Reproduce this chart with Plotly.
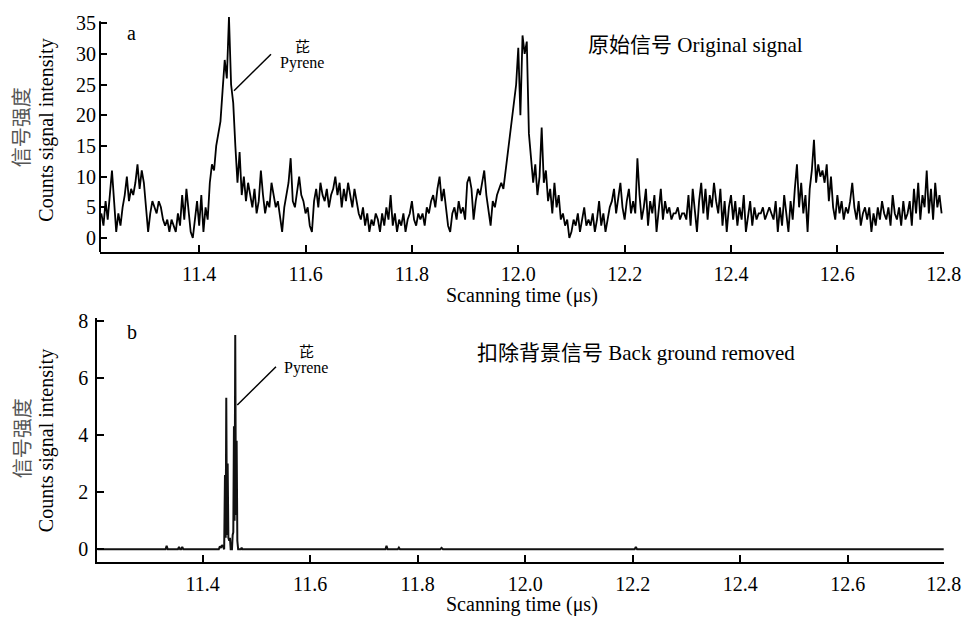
import numpy as np
import plotly.graph_objects as go

W, H = 963, 617


def fx(p):
    return p / W


def fy(p):
    return 1 - p / H


# ---------------- data ----------------
# Panel a: original signal, counts sampled every 0.004 us starting at 11.216 us
counts_a = [
    4, 2, 6, 3, 7, 11, 6, 1, 4, 2,
    5, 7, 10, 6, 8, 7, 9, 12, 8, 11,
    9, 5, 1, 4, 6, 5, 4, 6, 5, 3,
    2, 3, 1, 3, 2, 1, 4, 2, 7, 3,
    8, 4, 1, 0, 3, 6, 2, 7, 1, 5,
    3, 9, 12, 11, 15, 17, 19, 24, 29, 26,
    36, 25, 22, 15, 9, 14, 7, 10, 6, 9,
    7, 5, 8, 4, 6, 11, 7, 4, 6, 5,
    9, 7, 5, 6, 3, 1, 5, 7, 9, 13,
    6, 5, 8, 10, 7, 6, 4, 5, 2, 1,
    6, 8, 5, 9, 7, 6, 8, 5, 7, 8,
    10, 7, 9, 5, 8, 6, 9, 7, 5, 8,
    6, 4, 3, 5, 2, 4, 1, 3, 2, 4,
    3, 1, 4, 2, 5, 3, 7, 2, 4, 1,
    3, 2, 4, 1, 3, 4, 6, 3, 2, 4,
    3, 4, 2, 5, 4, 6, 7, 5, 8, 10,
    6, 8, 5, 2, 1, 4, 5, 3, 6, 4,
    5, 3, 9, 10, 8, 3, 6, 8, 7, 9,
    11, 7, 4, 2, 6, 5, 7, 8, 9, 8,
    11, 14, 16, 19, 22, 25, 31, 20, 33, 30,
    32, 17, 13, 9, 12, 7, 10, 18, 9, 11,
    6, 8, 4, 9, 5, 7, 3, 4, 2, 3,
    0, 1, 3, 2, 4, 1, 3, 5, 2, 3,
    2, 4, 1, 3, 6, 2, 4, 1, 3, 5,
    6, 8, 4, 7, 9, 5, 3, 6, 8, 4,
    6, 4, 13, 7, 3, 5, 8, 2, 6, 4,
    7, 1, 5, 8, 3, 6, 4, 5, 3, 4,
    4, 5, 3, 4, 4, 3, 7, 2, 8, 5,
    1, 6, 9, 4, 8, 3, 7, 5, 9, 6,
    4, 8, 2, 6, 1, 5, 7, 3, 6, 2,
    5, 3, 7, 1, 4, 6, 2, 5, 3, 4,
    4, 5, 3, 4, 5, 4, 3, 6, 1, 5,
    2, 7, 4, 1, 6, 3, 8, 12, 5, 9,
    4, 7, 1, 8, 11, 16, 9, 12, 10, 11,
    9, 12, 6, 10, 5, 3, 7, 4, 6, 3,
    5, 4, 6, 9, 5, 3, 6, 2, 4, 5,
    3, 5, 1, 4, 2, 5, 3, 6, 4, 3,
    5, 2, 7, 4, 3, 5, 2, 6, 3, 4,
    6, 2, 8, 4, 9, 3, 7, 5, 11, 4,
    8, 3, 9, 5, 7, 4,
]
time_start_a = 11.216
time_step_a = 0.004
time_a = np.round(time_start_a + time_step_a * np.arange(len(counts_a)), 4)

# Panel b: background removed
time_b = [
    11.204, 11.331, 11.333, 11.335, 11.354, 11.356, 11.358, 11.360, 11.362, 11.364,
    11.430, 11.432, 11.434, 11.436, 11.438, 11.440, 11.4415, 11.4428, 11.4439, 11.4452,
    11.4465, 11.4478, 11.4495, 11.4508, 11.4521, 11.4545, 11.4558, 11.4570, 11.4582, 11.4594,
    11.4606, 11.4619, 11.4632, 11.4645, 11.4660, 11.4710, 11.4725, 11.4740, 11.740, 11.742,
    11.744, 11.763, 11.765, 11.767, 11.842, 11.8444, 11.847, 12.2035, 12.2058, 12.208,
    12.7785,
]
counts_b = [
    0, 0, 0.12, 0, 0, 0.08, 0, 0, 0.08, 0,
    0, 0.1, 0.05, 0.15, 0.1, 0, 2.6, 0.4, 5.3, 0.5,
    3.0, 0.4, 0.3, 0.4, 0, 0, 0.5, 0.6, 4.3, 1.0,
    7.5, 1.2, 3.8, 0.3, 0, 0, 0.05, 0, 0, 0.12,
    0, 0, 0.06, 0, 0, 0.05, 0, 0, 0.08, 0,
    0,
]

x_tick_labels = ["11.4", "11.6", "11.8", "12.0", "12.2", "12.4", "12.6", "12.8"]
x_tick_vals_a = [11.4, 11.6, 11.8, 12.0, 12.2, 12.4, 12.6, 12.8]
x_tick_vals_b = [11.4, 11.6, 11.8, 12.0, 12.2, 12.4, 12.6, 12.7785]
y_tick_vals_a = [0, 5, 10, 15, 20, 25, 30, 35]
y_tick_vals_b = [0, 2, 4, 6, 8]

x_title = "Scanning time (μs)"
y_title_cn = "信号强度"
y_title_en = "Counts signal intensity"
pyrene_cn = "芘"
pyrene_en = "Pyrene"
label_a = "原始信号 Original signal"
label_b = "扣除背景信号 Back ground removed"

# ---------------- figure ----------------
FONT = "Liberation Serif, 'Noto Sans CJK SC', serif"
fig = go.Figure()
fig.add_trace(go.Scatter(x=time_a, y=counts_a, mode="lines",
                         line=dict(color="#000000", width=1.8),
                         xaxis="x", yaxis="y", hoverinfo="skip"))
fig.add_trace(go.Scatter(x=time_b, y=counts_b, mode="lines",
                         line=dict(color="#111111", width=2),
                         xaxis="x2", yaxis="y2", hoverinfo="skip"))

axis_common = dict(showgrid=False, zeroline=False, ticks="inside", ticklen=7,
                   tickwidth=1.5, tickcolor="black", linecolor="black", linewidth=2,
                   tickfont=dict(family=FONT, size=20, color="black"),
                   ticklabelstandoff=3, automargin=False)

fig.update_layout(
    width=W, height=H, autosize=False,
    margin=dict(l=0, r=0, t=0, b=0, pad=0),
    paper_bgcolor="white", plot_bgcolor="white",
    showlegend=False,
    font=dict(family=FONT, size=20, color="black"),
    xaxis=dict(domain=[fx(100), fx(944)], range=[11.2135, 12.8005], anchor="y",
               showline=True, tickvals=x_tick_vals_a, ticktext=x_tick_labels, **axis_common),
    yaxis=dict(domain=[fy(252), fy(16)], range=[-2.28, 36.16], anchor="x",
               showline=False, tickvals=y_tick_vals_a, **axis_common),
    xaxis2=dict(domain=[fx(97.3), fx(944)], range=[11.204, 12.779], anchor="y2",
                showline=True, tickvals=x_tick_vals_b, ticktext=x_tick_labels, **axis_common),
    yaxis2=dict(domain=[fy(561.7), fy(318.3)], range=[-0.434, 8.08], anchor="x2",
                showline=True, tickvals=y_tick_vals_b, **axis_common),
)

shapes = [
    dict(type="line", xref="x domain", yref="y", x0=0, x1=0, y0=-2.28, y1=35.3,
         line=dict(color="black", width=2)),
    dict(type="line", xref="paper", yref="paper", x0=fx(234), y0=fy(90.7),
         x1=fx(271), y1=fy(54.3), line=dict(color="black", width=1.5)),
    dict(type="line", xref="paper", yref="paper", x0=fx(237.3), y0=fy(405),
         x1=fx(276), y1=fy(366.7), line=dict(color="black", width=1.5)),
]
fig.update_layout(shapes=shapes)


def ann(text, x, y, size=20, xanchor="center", angle=0, color="black"):
    return dict(text=text, x=fx(x), y=fy(y), xref="paper", yref="paper",
                xanchor=xanchor, yanchor="middle", showarrow=False, textangle=angle,
                font=dict(family=FONT, size=size, color=color))


annotations = [
    ann("a", 131.7, 33.3),
    ann(pyrene_cn, 302.7, 46.7, size=15),
    ann(pyrene_en, 301.7, 63.3, size=16),
    ann(label_a, 586, 45, size=21, xanchor="left"),
    ann(x_title, 521.7, 295),
    ann(y_title_cn, 21.7, 127.5, angle=-90, color="#555555"),
    ann(y_title_en, 46.7, 130, angle=-90),
    ann("b", 131.7, 331.7),
    ann(pyrene_cn, 306, 351.7, size=15),
    ann(pyrene_en, 305.7, 368.3, size=16),
    ann(label_b, 475, 353, size=21, xanchor="left"),
    ann(x_title, 521.7, 604),
    ann(y_title_cn, 22.7, 438.5, angle=-90, color="#555555"),
    ann(y_title_en, 46.7, 440.5, angle=-90),
]
fig.update_layout(annotations=annotations)

fig.write_html(
    "out.html",
    config={"displayModeBar": False},
    post_script="document.body.style.margin='0';document.body.style.padding='0';"
                "document.documentElement.style.overflow='hidden';",
)
